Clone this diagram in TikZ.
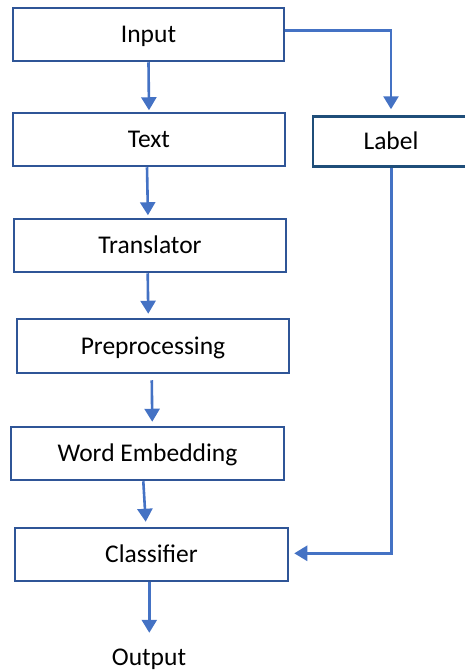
\documentclass[tikz,border=0pt]{standalone}
\usepackage{fontspec}
\setmainfont{Carlito}
\usetikzlibrary{arrows.meta}
\definecolor{boxblue}{HTML}{2F5597}
\definecolor{navyblue}{HTML}{1F4E79}
\definecolor{arrowblue}{HTML}{4472C4}
\tikzset{
  stage/.style={draw=boxblue, line width=2.5pt, fill=white, rectangle,
    minimum width=272pt, minimum height=53pt, inner sep=0pt,
    text height=16pt, text depth=0pt, font=\fontsize{25.5}{30}\selectfont},
  flow/.style={draw=arrowblue, line width=2.6pt,
    -{Triangle[width=15pt,length=13pt]}},
}
\begin{document}
\begin{tikzpicture}[x=1pt, y=-1pt]
  \useasboundingbox (0,0) rectangle (465,670);
  \clip (0,0) rectangle (465,670);

  % processing pipeline
  \node[stage, minimum width=271pt] (inp) at (148.5,34.5) {Input};
  \node[stage] (txt) at (149,139.5) {Text};
  \node[stage, draw=navyblue, minimum width=156pt, minimum height=50pt] (lab) at (391,141.5) {Label};
  \node[stage] (trn) at (150,245.5) {Translator};
  \node[stage, minimum height=54pt] (pre) at (153,346) {Preprocessing};
  \node[stage, minimum width=273pt] (emb) at (147.5,453.5) {Word Embedding};
  \node[stage, minimum width=273pt] (cls) at (151.5,554.5) {Classifier};
  \node[anchor=base, inner sep=0pt, text height=16pt, text depth=5pt,
    font=\fontsize{25.5}{30}\selectfont] (out) at (149,665) {Output};

  % connectors
  \draw[flow, shorten >=1.5pt] (inp.south) -- (txt.north);
  \draw[flow, shorten >=6pt] ([yshift=4pt]inp.east) -| (lab.north);
  \draw[flow, shorten >=2.5pt] ([xshift=-2pt]txt.south) -- ([xshift=-2pt]trn.north);
  \draw[flow, shorten >=4pt] ([xshift=-2.3pt]trn.south) -- ([xshift=-4.7pt]pre.north);
  \draw[flow, shorten <=6pt, shorten >=4pt] ([xshift=-1.3pt]pre.south) -- ([xshift=4.8pt]emb.north);
  \draw[flow, shorten >=5pt] ([xshift=-4.2pt]emb.south) -- ([xshift=-5.5pt]cls.north);
  \draw[flow, shorten >=5pt] ([xshift=0.7pt]lab.south) |- ([yshift=1.2pt]cls.east);
  \draw[flow, shorten >=16pt] ([xshift=-2.2pt]cls.south) -- ([xshift=-2.2pt]cls.south |- out.north);
\end{tikzpicture}
\end{document}
